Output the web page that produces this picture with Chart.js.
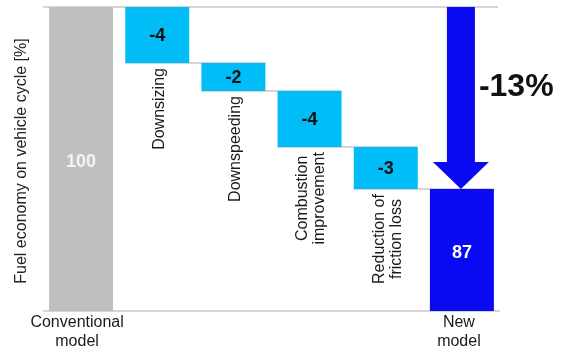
<!DOCTYPE html>
<html>
<head>
<meta charset="utf-8">
<script src="https://cdn.jsdelivr.net/npm/chart.js@4"></script>
<style>
  html, body { margin: 0; padding: 0; background: #fff; }
  #wrap { width: 563px; height: 351px; }
</style>
</head>
<body>
<div id="wrap"><canvas id="waterfall" width="563" height="351"></canvas></div>
<script>
const categories = ['Conventional model', 'Downsizing', 'Downspeeding',
  'Combustion improvement', 'Reduction of friction loss', 'New model'];
const labelLines = [['Conventional', 'model'], ['Downsizing'], ['Downspeeding'],
  ['Combustion', 'improvement'], ['Reduction of', 'friction loss'], ['New', 'model']];
const startValue = 100;
const steps = [-4, -2, -4, -3];
const endValue = 87;
const totalChange = '-13%';
const axisMin = 78.3;
const axisMax = 100;
const yTitle = 'Fuel economy on vehicle cycle [%]';

const FONT = '"Liberation Sans", Arial, sans-serif';

// floating bars: [bottom, top]
const barData = [[axisMin, startValue]];
let running = startValue;
steps.forEach(s => {
  barData.push([running + s, running]);
  running += s;
});
barData.push([axisMin, endValue]);

const valueLabels = [String(startValue)].concat(steps.map(String), [String(endValue)]);
const barColors = ['#bfbfbf', '#00bdf7', '#00bdf7', '#00bdf7', '#00bdf7', '#0a0af2'];
const valueColors = ['#f4f4f4', '#111', '#111', '#111', '#111', '#ffffff'];

const linesPlugin = {
  id: 'waterfallLines',
  beforeDatasetsDraw(chart) {
    const { ctx, chartArea, scales } = chart;
    const bars = chart.getDatasetMeta(0).data;
    ctx.save();
    ctx.strokeStyle = '#c8c8c8';
    ctx.lineWidth = 1.5;
    // top and bottom rules
    ctx.beginPath();
    ctx.moveTo(chartArea.left, scales.y.getPixelForValue(axisMax));
    ctx.lineTo(chartArea.right - 2, scales.y.getPixelForValue(axisMax));
    ctx.moveTo(chartArea.left, scales.y.getPixelForValue(axisMin));
    ctx.lineTo(chartArea.right, scales.y.getPixelForValue(axisMin));
    ctx.stroke();
    // connectors between steps
    ctx.beginPath();
    for (let i = 1; i <= steps.length; i++) {
      const y = scales.y.getPixelForValue(barData[i][0]);
      const a = bars[i], b = bars[i + 1];
      ctx.moveTo(a.x - a.width / 2, y);
      ctx.lineTo(b.x + b.width / 2, y);
    }
    ctx.stroke();
    ctx.restore();
  },
  afterDatasetsDraw(chart) {
    const { ctx, chartArea, scales } = chart;
    const bars = chart.getDatasetMeta(0).data;
    ctx.save();

    // values inside bars
    ctx.textAlign = 'center';
    ctx.textBaseline = 'middle';
    ctx.font = 'bold 18px ' + FONT;
    bars.forEach((bar, i) => {
      const yMid = i === 0 || i === bars.length - 1
        ? (bar.y + bar.base) / 2 + 3
        : (bar.y + bar.base) / 2 + 1;
      ctx.fillStyle = valueColors[i];
      ctx.fillText(valueLabels[i], bar.x, yMid);
    });

    // rotated step labels under each step bar
    ctx.fillStyle = '#1a1a1a';
    ctx.font = '16px ' + FONT;
    for (let i = 1; i <= steps.length; i++) {
      const bar = bars[i];
      const lines = labelLines[i];
      const w = Math.max(...lines.map(l => ctx.measureText(l).width));
      ctx.save();
      ctx.translate(bar.x + 1, bar.base + 5 + w / 2);
      ctx.rotate(-Math.PI / 2);
      lines.forEach((l, k) => {
        ctx.fillText(l, 0, (k - (lines.length - 1) / 2) * 17 + 1);
      });
      ctx.restore();
    }

    // bottom category labels
    [0, bars.length - 1].forEach(i => {
      const shift = i === 0 ? -4 : -3;
      labelLines[i].forEach((l, k) => {
        ctx.fillText(l, bars[i].x + shift, chartArea.bottom + 12 + k * 19);
      });
    });

    // y title
    ctx.save();
    ctx.translate(22, (chartArea.top + chartArea.bottom) / 2 + 2);
    ctx.rotate(-Math.PI / 2);
    ctx.font = '16px ' + FONT;
    ctx.fillStyle = '#222';
    ctx.fillText(yTitle, 0, 0);
    ctx.restore();

    // big arrow from start to end value
    const last = bars[bars.length - 1];
    const ax = last.x - 1;
    const yTop = scales.y.getPixelForValue(startValue);
    const yTip = scales.y.getPixelForValue(endValue);
    const shaft = 14, head = 28, headLen = 27;
    ctx.fillStyle = '#0a0af2';
    ctx.beginPath();
    ctx.moveTo(ax - shaft, yTop);
    ctx.lineTo(ax + shaft, yTop);
    ctx.lineTo(ax + shaft, yTip - headLen);
    ctx.lineTo(ax + head, yTip - headLen);
    ctx.lineTo(ax, yTip);
    ctx.lineTo(ax - head, yTip - headLen);
    ctx.lineTo(ax - shaft, yTip - headLen);
    ctx.closePath();
    ctx.fill();

    ctx.fillStyle = '#111';
    ctx.font = 'bold 32px ' + FONT;
    ctx.textAlign = 'left';
    ctx.fillText(totalChange, ax + 18, scales.y.getPixelForValue(94.3));
    ctx.restore();
  }
};

new Chart(document.getElementById('waterfall').getContext('2d'), {
  type: 'bar',
  data: {
    labels: categories,
    datasets: [{
      data: barData,
      backgroundColor: barColors,
      borderWidth: 0,
      categoryPercentage: 1,
      barPercentage: 0.84
    }]
  },
  options: {
    responsive: false,
    animation: false,
    layout: { padding: { left: 43, right: 63, top: 7, bottom: 40 } },
    scales: {
      x: { display: false },
      y: { display: false, min: axisMin, max: axisMax }
    },
    plugins: {
      legend: { display: false },
      tooltip: { enabled: false }
    }
  },
  plugins: [linesPlugin]
});
</script>
</body>
</html>
